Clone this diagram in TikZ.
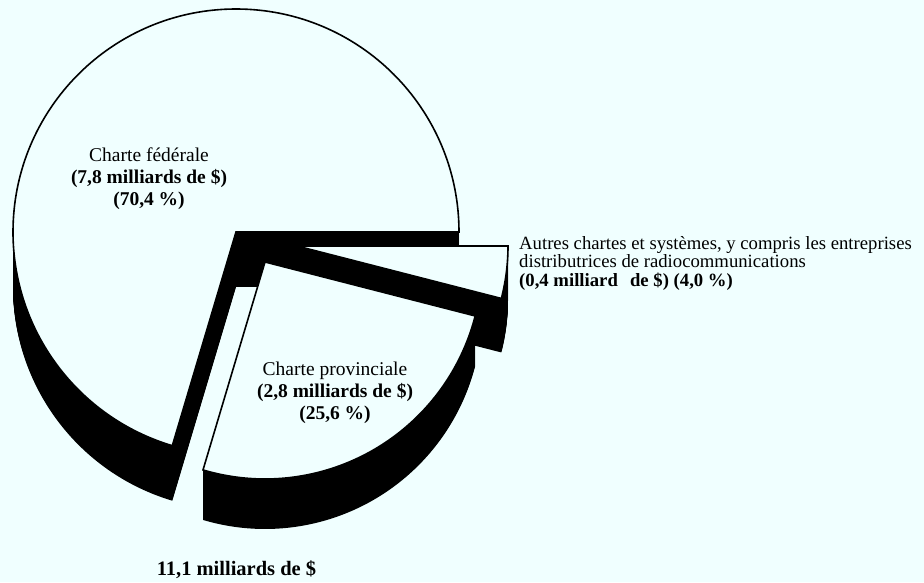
\documentclass[tikz,border=0pt]{standalone}
\usepackage{fontspec}
\setmainfont{Liberation Serif}
\definecolor{paper}{RGB}{240,255,255}

\begin{document}
\begin{tikzpicture}[x=1pt,y=1pt,
    face/.style={fill=paper,draw=black,line width=1.6pt,line join=miter},
    lbl/.style={font=\fontsize{19.5}{22}\selectfont,align=center,inner sep=0pt}]
  \fill[paper] (0,0) rectangle (924,582);
  \useasboundingbox (0,0) rectangle (924,582);

  % federal slice, extrusion then face
  \foreach \t in {1,...,55}
    \fill[yshift=-\t] (236,350) -- ++(0:223) arc[start angle=0,end angle=253.4,radius=223] -- cycle;
  \draw[face] (236,350) -- ++(0:223) arc[start angle=0,end angle=253.4,radius=223] -- cycle;

  % other slice
  \foreach \t in {1,...,54}
    \fill[yshift=-\t] (297,336) -- ++(-14.4:211) arc[start angle=-14.4,end angle=0,radius=211] -- cycle;
  \draw[face] (297,336) -- ++(-14.4:211) arc[start angle=-14.4,end angle=0,radius=211] -- cycle;

  % provincial slice
  \foreach \t in {1,...,50}
    \fill[yshift=-\t] (265,320) -- ++(-106.6:217) arc[start angle=-106.6,end angle=-14.4,radius=217] -- cycle;
  \draw[face] (265,320) -- ++(-106.6:217) arc[start angle=-106.6,end angle=-14.4,radius=217] -- cycle;

  \node[lbl] (fedlbl) at (149,403) {Charte fédérale\\\textbf{(7,8 milliards de \$)}\\\textbf{(70,4~\%)}};
  \node[lbl] (provlbl) at (335,189) {Charte provinciale\\\textbf{(2,8 milliards de \$)}\\\textbf{(25,6~\%)}};
  \node[lbl,align=left,anchor=west,font=\fontsize{18.7}{18.5}\selectfont] (autlbl) at (519,319)
    {Autres chartes et systèmes, y compris les entreprises\\distributrices de radiocommunications\\\textbf{(0,4 milliard\hspace{0.65em}de \$) (4,0~\%)}};
  \node[lbl,font=\bfseries\fontsize{20.5}{22}\selectfont,anchor=base] (total) at (236.5,7) {11,1 milliards de \$};
\end{tikzpicture}
\end{document}
